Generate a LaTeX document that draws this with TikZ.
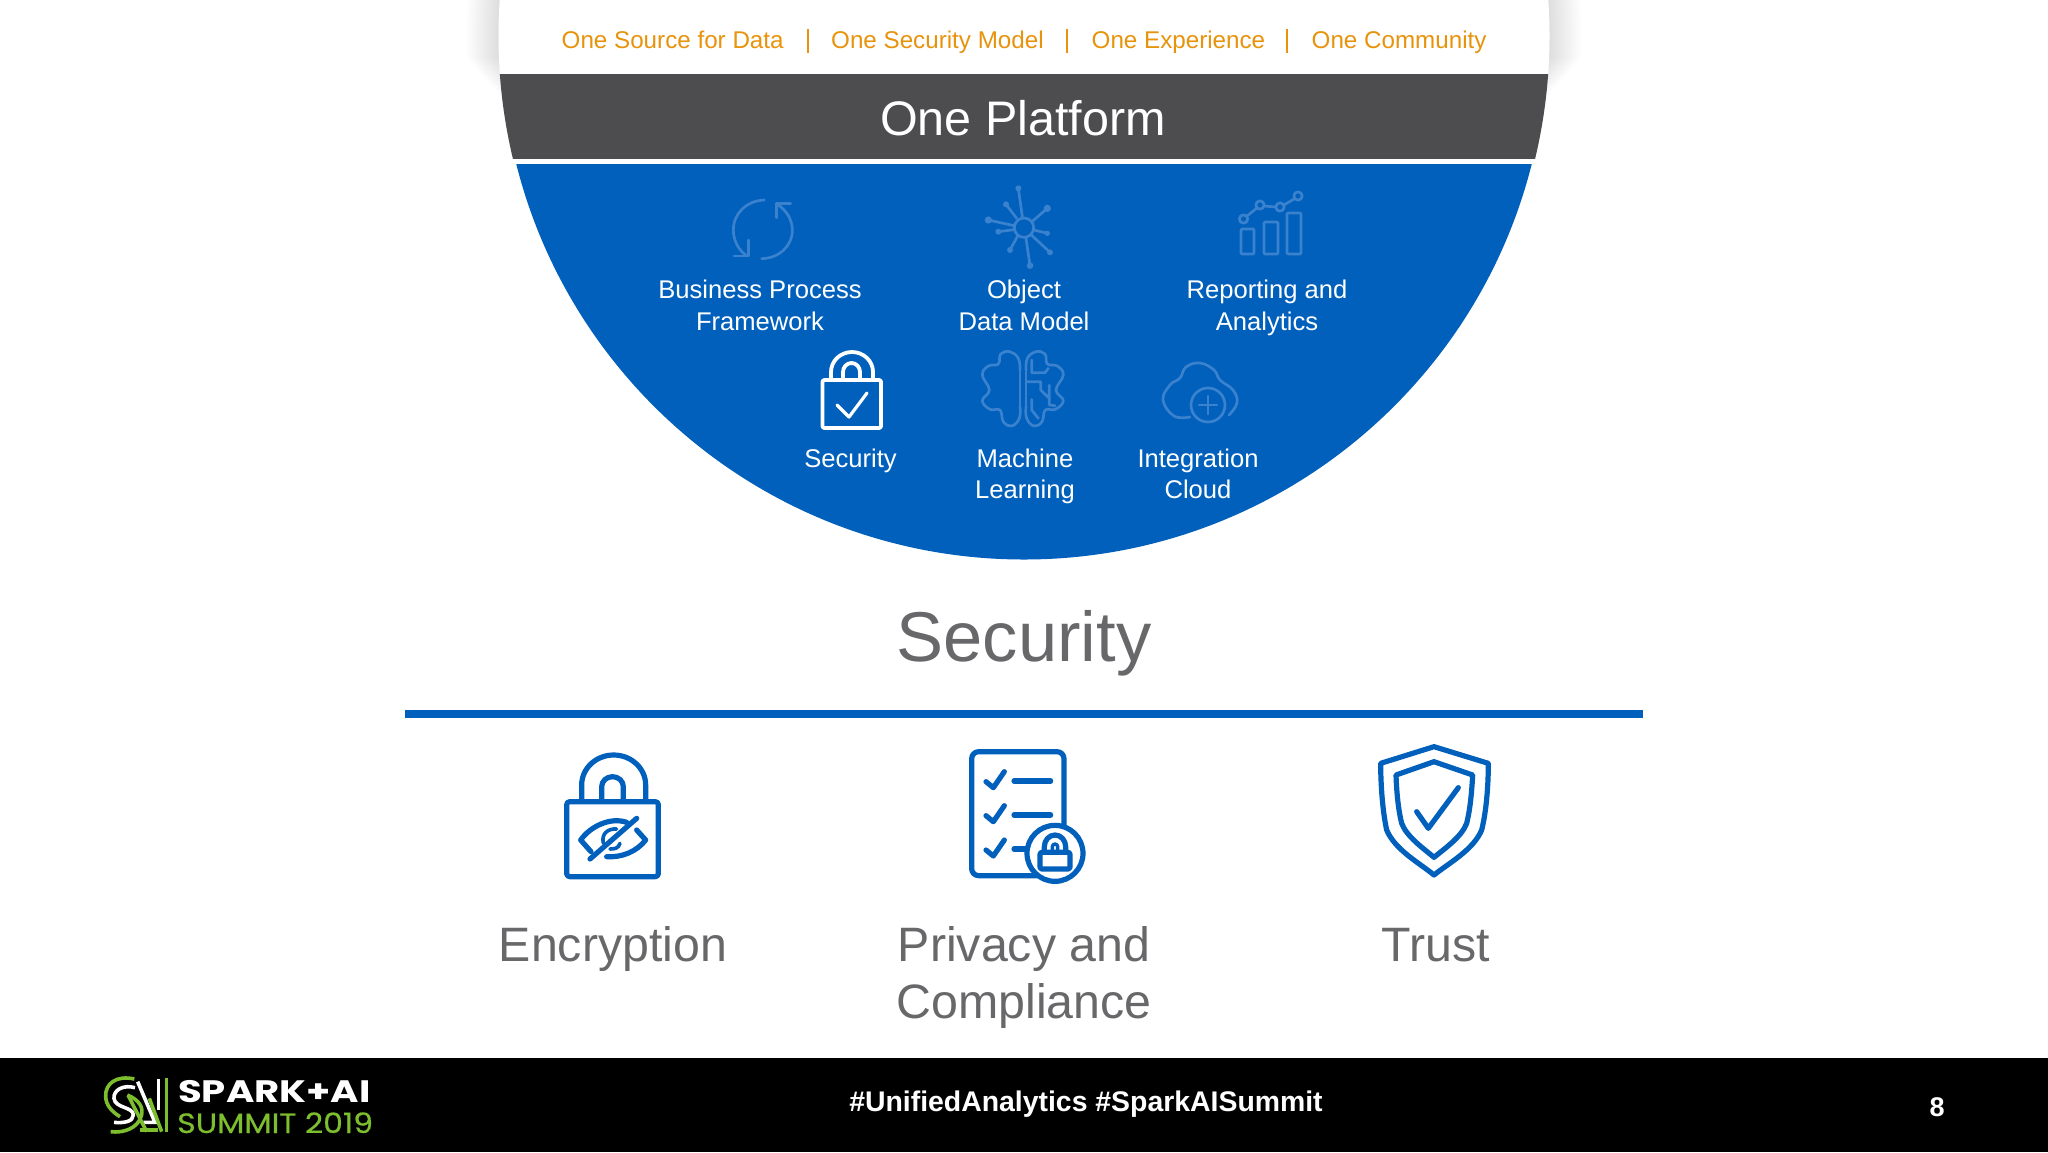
\documentclass[tikz,border=0pt]{standalone}
\usepackage{fontspec}
\usepackage{graphicx}
\setmainfont{Liberation Sans}
\newfontfamily\logofont{Poppins}
\newfontfamily\logofontm[FakeBold=0.5]{Poppins}
\definecolor{brandblue}{HTML}{0060BC}
\definecolor{faintblue}{HTML}{3A81CE}
\definecolor{bargray}{HTML}{4D4C4F}
\definecolor{orangetxt}{HTML}{E8930C}
\definecolor{graytxt}{HTML}{68686A}
\definecolor{logogreen}{HTML}{7DBE2E}
\tikzset{
  orangelabel/.style={anchor=base west,inner sep=0pt,text=orangetxt,font=\fontsize{24.2}{29}\selectfont},
  orangebar/.style={draw=orangetxt,line width=1.6pt},
  bluelabel/.style={anchor=base,inner sep=0pt,text=white,align=center,font=\fontsize{25.6}{31.5}\selectfont},
  itemlabel/.style={anchor=base,inner sep=0pt,text=graytxt,align=center,font=\fontsize{48.3}{57}\selectfont},
  faint/.style={draw=faintblue,line width=2.7pt,line cap=round,line join=round},
  strong/.style={draw=brandblue,line width=5.2pt,line cap=round,line join=round},
  lockw/.style={draw=white,line width=3.8pt,line cap=round,line join=round},
  lgreen/.style={draw=logogreen,line width=3.6pt},
  lwhite/.style={draw=white,line width=3.6pt},
}
\begin{document}
\begin{tikzpicture}[x=1pt,y=-1pt]
\path[use as bounding box,fill=white] (0,0) rectangle (2048,1152);
% shadow of the white panel
\foreach \w in {4,8,...,64}{
  \begin{scope}
  \clip (440,0) rectangle (1610,98-\w/1.6);
  \draw[black,opacity=0.009,line width=\w pt] (1024,36) circle[radius=525.5];
  \end{scope}
}
\begin{scope}
\clip (1024,36) circle[radius=525.5];
\fill[white] (470,0) rectangle (1580,74);
\fill[bargray] (470,74) rectangle (1580,158.5);
\fill[white] (470,158.5) rectangle (1580,164);
\end{scope}
\begin{scope}
\clip (1024,36) circle[radius=523.5];
\fill[brandblue] (470,164) rectangle (1580,600);
\end{scope}
% orange strip
\node[orangelabel] (src) at (561.5,48.5) {One Source for Data};
\node[orangelabel] (sec) at (831,48.5) {One Security Model};
\node[orangelabel] (exp) at (1091.5,48.5) {One Experience};
\node[orangelabel] (com) at (1311.5,48.5) {One Community};
\coordinate (b1a) at (808,29); \coordinate (b1b) at (808,53);
\coordinate (b2a) at (1067,29); \coordinate (b2b) at (1067,53);
\coordinate (b3a) at (1287,29); \coordinate (b3b) at (1287,53);
\draw[orangebar] (b1a) -- (b1b);
\draw[orangebar] (b2a) -- (b2b);
\draw[orangebar] (b3a) -- (b3b);
\node[anchor=base,inner sep=0pt,text=white,font=\fontsize{48.5}{50}\selectfont] (platform) at (1023,135) {One Platform};
% labels in the blue half disc (base anchor is the last line)
\node[bluelabel] (bpf) at (760,330) {Business Process\\Framework};
\node[bluelabel] (odm) at (1024,330) {Object\\Data Model};
\node[bluelabel] (rep) at (1267,330) {Reporting and\\Analytics};
\node[bluelabel] (secl) at (850.5,467) {Security};
\node[bluelabel] (ml) at (1025,498.5) {Machine\\Learning};
\node[bluelabel] (ic) at (1198,498.5) {Integration\\Cloud};
% business process icon
\begin{scope}[shift={(720,180)},scale=1/3]
\draw[faint] (133,60) .. controls (80,62) and (40,100) .. (40,150) .. controls (40,180) and (55,210) .. (78,226);
\draw[faint] (85,180) -- (85,228) -- (42,228);
\draw[faint] (170,72) .. controls (200,90) and (217,120) .. (217,150) .. controls (217,200) and (175,235) .. (125,236);
\draw[faint] (170,113) -- (170,70) -- (212,70);
\end{scope}
% object data model icon
\begin{scope}[shift={(970,175)},scale=1/3]
\draw[faint] (162,158) circle[radius=29];
\draw[faint] (157,125) -- (145,40);
\draw[faint] (140,130) -- (108,88);
\draw[faint] (188,138) -- (232,100);
\draw[faint] (132,152) -- (55,135);
\draw[faint] (132,164) -- (85,170);
\draw[faint] (192,165) -- (232,175);
\draw[faint] (143,183) -- (120,225);
\draw[faint] (184,180) -- (240,232);
\draw[faint] (168,190) -- (180,272);
\fill[faintblue] (145,40) circle[radius=9];
\fill[faintblue] (108,88) circle[radius=9];
\fill[faintblue] (232,100) circle[radius=11];
\fill[faintblue] (55,135) circle[radius=11];
\fill[faintblue] (85,170) circle[radius=9];
\fill[faintblue] (232,175) circle[radius=8];
\fill[faintblue] (120,225) circle[radius=9];
\fill[faintblue] (240,232) circle[radius=9];
\fill[faintblue] (180,272) circle[radius=10];
\end{scope}
% reporting icon
\draw[faint,rounded corners=1pt] (1241,229) rectangle (1254,254);
\draw[faint,rounded corners=1pt] (1264,222) rectangle (1278,254);
\draw[faint,rounded corners=1pt] (1287,213) rectangle (1301,254);
\draw[faint] (1243.5,219) circle[radius=4.2];
\draw[faint] (1260,205) circle[radius=4.2];
\draw[faint] (1280,207) circle[radius=4.2];
\draw[faint] (1298,196) circle[radius=4.2];
\draw[faint] (1247,216) -- (1257,208);
\draw[faint] (1264,206) -- (1276,207);
\draw[faint] (1284,205) -- (1294,199);
% white security lock
\draw[lockw,rounded corners=2pt] (822.5,380) rectangle (881,428);
\draw[lockw] (831,379) -- (831,372) arc[start angle=180,end angle=360,x radius=21,y radius=20] -- (873,379);
\draw[lockw] (843,379) -- (843,372) arc[start angle=180,end angle=360,x radius=8.5,y radius=9] -- (860,379);
\draw[lockw,line width=3.2pt] (837,405) -- (849,417) -- (867,393);
% brain icon
\begin{scope}[shift={(970,340)},scale=1/3]
\draw[faint] plot[smooth,tension=.7] coordinates {(150,90) (145,55) (120,35) (92,42) (85,72) (55,78) (37,105) (58,150) (37,182) (60,208) (90,210) (100,245) (125,258) (148,235) (150,200)};
\draw[faint] (150,90) -- (150,200);
\draw[faint] plot[smooth,tension=.7] coordinates {(168,90) (172,55) (197,35) (225,42) (232,72) (262,78) (280,105) (258,150) (280,182) (256,208) (226,210) (216,245) (192,258) (170,235) (168,200)};
\draw[faint] (168,90) -- (168,200);
\draw[faint] (185,60) -- (185,98) -- (225,98) -- (235,85);
\draw[faint] (170,125) -- (212,125) -- (212,150) -- (238,175) -- (238,135);
\draw[faint] (185,178) -- (185,210) -- (205,235);
\draw[faint] (238,175) -- (238,195) -- (255,197);
\end{scope}
% cloud icon
\draw[faint] plot[smooth,tension=.7] coordinates {(1190,417) (1174,416) (1163,400) (1170,385) (1180,378) (1186,367) (1200,363) (1214,370) (1220,380) (1233,390) (1237,403) (1229,415)};
\fill[brandblue] (1208,405) circle[radius=17];
\draw[faint] (1208,405) circle[radius=17];
\draw[faint] (1208,396) -- (1208,414);
\draw[faint] (1199,405) -- (1217,405);
% heading and rule
\node[anchor=base,inner sep=0pt,text=graytxt,font=\fontsize{70.5}{80}\selectfont] (title) at (1024,661) {Security};
\coordinate (ruleL) at (405,714); \coordinate (ruleR) at (1643,714);
\draw[brandblue,line width=8pt] (ruleL) -- (ruleR);
% encryption icon
\begin{scope}[shift={(555,745)},scale=1/3]
\draw[strong,rounded corners=3pt] (35,170) rectangle (310,395);
\draw[strong] (80,168) -- (80,120) arc[start angle=180,end angle=360,x radius=96,y radius=90] -- (272,168);
\draw[strong] (140,168) -- (140,125) arc[start angle=180,end angle=360,x radius=32.5,y radius=30] -- (205,168);
\draw[strong] (108,320) -- (77,285) .. controls (105,245) and (165,215) .. (215,232);
\draw[strong] (245,255) -- (272,285) .. controls (245,320) and (200,338) .. (155,335);
\draw[strong] (245,220) -- (105,342);
\draw[strong,line width=3.6pt] (145,295) .. controls (138,265) and (160,250) .. (185,252);
\draw[strong,line width=3.6pt] (195,295) .. controls (190,310) and (180,312) .. (165,312);
\end{scope}
% checklist icon
\begin{scope}[shift={(960,745)},scale=1/3]
\draw[strong,rounded corners=7pt] (230,392) -- (35,392) -- (35,20) -- (312,20) -- (312,240);
\foreach \dy in {0,102,205}{
  \draw[strong] (78,110+\dy) -- (100,128+\dy) -- (133,80+\dy);
}
\draw[strong] (162,108) -- (272,108);
\draw[strong] (162,210) -- (272,210);
\draw[strong] (162,312) -- (195,312);
\fill[white] (285,325) circle[radius=84];
\draw[strong] (285,325) circle[radius=84];
\draw[strong,rounded corners=2pt] (240,322) rectangle (330,372);
\draw[strong] (253,320) -- (253,305) arc[start angle=180,end angle=360,x radius=32,y radius=35] -- (317,320);
\draw[strong,line width=3.4pt] (277,318) -- (277,305) arc[start angle=180,end angle=360,x radius=8,y radius=8] -- (293,318);
\end{scope}
% shield icon
\begin{scope}[shift={(1370,740)},scale=1/3]
\draw[strong] (192,20) -- (355,70) .. controls (355,130) and (350,210) .. (335,270) .. controls (310,330) and (235,370) .. (192,405) .. controls (150,370) and (75,330) .. (50,270) .. controls (37,210) and (32,130) .. (32,70) -- cycle;
\draw[strong] (192,65) -- (308,105) .. controls (305,160) and (300,210) .. (290,250) .. controls (275,290) and (225,325) .. (192,352) .. controls (160,325) and (110,290) .. (95,250) .. controls (85,210) and (80,160) .. (78,105) -- cycle;
\draw[strong] (140,215) -- (175,265) -- (265,143);
\end{scope}
% item labels
\node[itemlabel] (enc) at (613,961) {Encryption};
\node[itemlabel] (pri) at (1024,1018) {Privacy and\\Compliance};
\node[itemlabel] (tru) at (1436,961) {Trust};
% footer
\fill[black] (0,1058) rectangle (2048,1152);
\node[anchor=base,inner sep=0pt,text=white,font=\bfseries\fontsize{28.4}{32}\selectfont] (tags) at (1086,1111) {\#UnifiedAnalytics \#SparkAISummit};
\node[anchor=base,inner sep=0pt,text=white,font=\bfseries\fontsize{27}{30}\selectfont] (pg) at (1937,1116) {8};
% logo
\begin{scope}[shift={(90,1065)},scale=1/3]
\draw[lgreen] (133,42) .. controls (80,30) and (45,55) .. (47,95) .. controls (48,120) and (65,140) .. (90,155);
\draw[lwhite] (135,68) .. controls (100,58) and (70,75) .. (72,100) .. controls (75,130) and (130,125) .. (130,150) .. controls (130,170) and (100,175) .. (72,172);
\draw[lgreen] (112,90) .. controls (150,105) and (160,130) .. (155,150) .. controls (145,190) and (100,205) .. (62,200);
\draw[lwhite] (143,50) -- (195,172) -- (160,172);
\draw[lwhite] (205,42) -- (205,135);
\draw[lgreen] (230,38) -- (230,200);
\draw[lgreen] (115,92) -- (170,200);
\draw[lgreen] (150,195) -- (205,195);
\draw[lgreen] (178,100) -- (215,200);
\end{scope}
\node[anchor=base west,inner sep=0pt,text=white,font=\logofont\bfseries\fontsize{31}{34}\selectfont] (spark) at (178,1102) {\scalebox{1.245}[1]{SPARK+AI}};
\node[anchor=base west,inner sep=0pt,text=logogreen,font=\logofontm\fontsize{28}{32}\selectfont] (summit) at (177,1133) {\scalebox{1.13}[1]{SUMMIT 2019}};
\end{tikzpicture}
\end{document}
